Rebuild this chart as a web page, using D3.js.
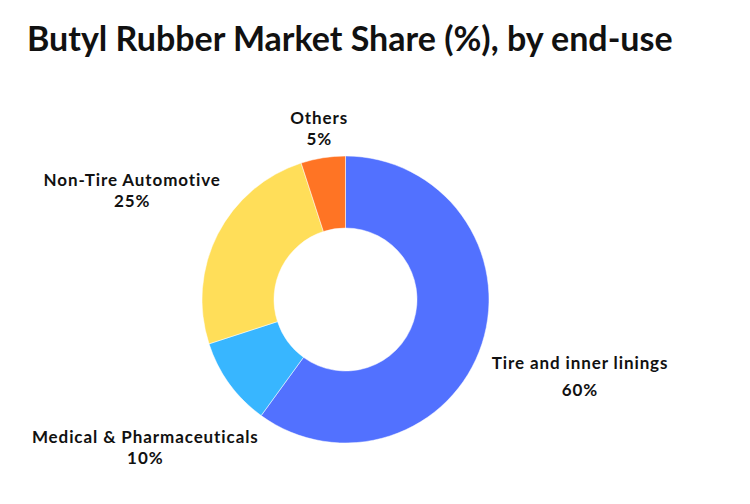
<!DOCTYPE html>
<html>
<head>
<meta charset="utf-8">
<script src="https://cdn.jsdelivr.net/npm/d3@7"></script>
<style>
  html, body { margin: 0; padding: 0; background: #fff; }
  svg { display: block; }
  text { font-family: Lato, "Open Sans", sans-serif; fill: #111; }
</style>
</head>
<body>
<svg id="chart" width="750" height="504"></svg>
<script>
// Data
const categories = ["Tire and inner linings", "Medical & Pharmaceuticals", "Non-Tire Automotive", "Others"];
const shares = [60, 10, 25, 5];
const colors = ["#5271FF", "#38B6FF", "#FFDE59", "#FF7424"];
const titleText = "Butyl Rubber Market Share (%), by end-use";

// Layout (label nudges relative to the label arc centroid)
const labelNudgeX = [1.5, -2, 5, 12];
const labelNudgeY = [-6, -1, -2, 66.5];
const labelLineGap = [26.4, 21, 21, 21];

const W = 750, H = 504;
const cx = 345.5, cy = 299.5, outerR = 143.5, innerR = 71.5, labelR = 245;

const svg = d3.select("#chart");

svg.append("text")
  .attr("x", 27)
  .attr("y", 51)
  .attr("font-size", 34)
  .attr("font-weight", 700)
  .text(titleText);

const data = categories.map((c, i) => ({ name: c, value: shares[i], i }));

const pie = d3.pie().value(d => d.value).sort(null).startAngle(0).endAngle(2 * Math.PI);
const arcs = pie(data);
const arc = d3.arc().innerRadius(innerR).outerRadius(outerR);
const labelArc = d3.arc().innerRadius(labelR).outerRadius(labelR);
const color = d3.scaleOrdinal().domain(categories).range(colors);

const g = svg.append("g").attr("transform", `translate(${cx},${cy})`);

g.selectAll("path.slice")
  .data(arcs)
  .join("path")
  .attr("class", "slice")
  .attr("d", arc)
  .attr("fill", d => color(d.data.name))
  .attr("stroke", "#fff")
  .attr("stroke-width", 0.5);

const labels = g.selectAll("g.label")
  .data(arcs)
  .join("g")
  .attr("class", "label")
  .attr("transform", d => {
    const [x, y] = labelArc.centroid(d);
    return `translate(${x + labelNudgeX[d.data.i]},${y + labelNudgeY[d.data.i]})`;
  });

labels.append("text")
  .attr("text-anchor", "middle")
  .attr("font-size", 17)
  .attr("font-weight", 700)
  .attr("letter-spacing", 0.9)
  .text(d => d.data.name);

labels.append("text")
  .attr("text-anchor", "middle")
  .attr("y", d => labelLineGap[d.data.i])
  .attr("font-size", 17)
  .attr("font-weight", 700)
  .attr("letter-spacing", 0.9)
  .text(d => d.data.value + "%");
</script>
</body>
</html>
